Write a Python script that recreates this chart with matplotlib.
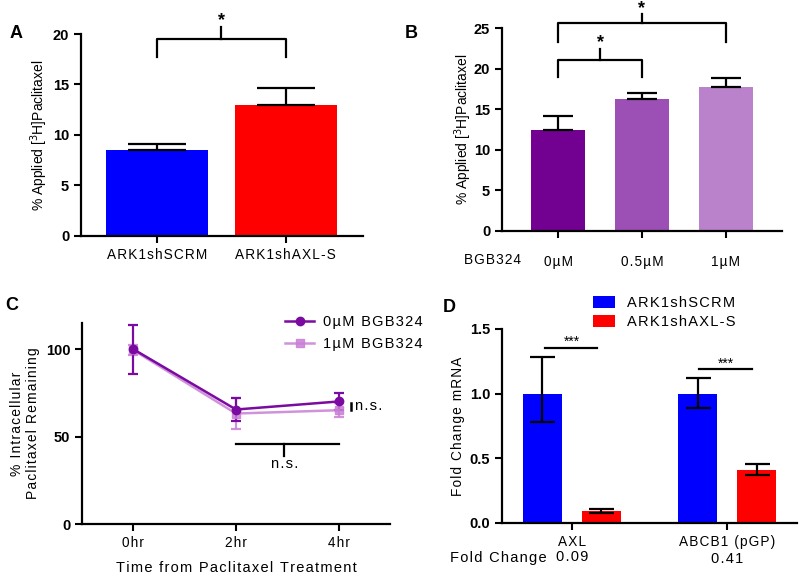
import matplotlib
matplotlib.use('Agg')
import matplotlib.pyplot as plt
from matplotlib.lines import Line2D
import numpy as np

plt.rcParams['font.family'] = ['Liberation Sans', 'DejaVu Sans']

# Panel A data
a_labels = ['ARK1shSCRM', 'ARK1shAXL-S']
a_values = [8.5, 13.0]
a_err = [0.6, 1.7]
a_colors = ['#0000FF', '#FF0000']

# Panel B data
b_labels = ['0µM', '0.5µM', '1µM']
b_values = [12.4, 16.3, 17.7]
b_err = [1.8, 0.65, 1.15]
b_colors = ['#720090', '#9C4FB4', '#BA82CB']

# Panel C data
c_times = ['0hr', '2hr', '4hr']
c_0um = [100, 65.5, 70.1]
c_0um_err = [14, 6.8, 4.6]
c_1um = [99.5, 63.2, 65.1]
c_1um_err = [3, 8.8, 4.0]

# Panel D data
d_genes = ['AXL', 'ABCB1 (pGP)']
d_scrm = [1.0, 1.0]
d_scrm_lo = [0.22, 0.11]
d_scrm_hi = [0.28, 0.12]
d_axl = [0.09, 0.41]
d_axl_lo = [0.012, 0.04]
d_axl_hi = [0.015, 0.05]
d_fold = ['0.09', '0.41']


def sp(s):
    # fake letter spacing like the prism export
    return '\u200a'.join(s)


W, H = 800, 575
C0 = '#7A0AA0'
C1 = '#C97FD6'
FS = 9.8


def px_axes(fig, left, top, right, bottom):
    return fig.add_axes([left / W, 1 - bottom / H, (right - left) / W, (bottom - top) / H])


def style(ax):
    for s in ['top', 'right']:
        ax.spines[s].set_visible(False)
    for s in ['left', 'bottom']:
        ax.spines[s].set_linewidth(1.6)
    ax.tick_params(width=1.5, length=5)
    ax.tick_params(axis='y', labelsize=10.5)
    for t in ax.get_yticklabels():
        t.set_fontweight('bold')


def bracket(ax, x1, x2, y, leg, stem, lw=1.6):
    xm = (x1 + x2) / 2
    ax.plot([x1, x1, x2, x2], [y - leg, y, y, y - leg], color='black', lw=lw, clip_on=False)
    ax.plot([xm, xm], [y, y + stem], color='black', lw=lw, clip_on=False)


fig = plt.figure(figsize=(8, 5.75), dpi=100)

# ---------- A ----------
ax = px_axes(fig, 81, 34, 363, 236)
xa = np.arange(len(a_values))
ax.bar(xa, a_values, width=0.79, color=a_colors)
ax.errorbar(xa, a_values, yerr=[np.zeros(2), a_err], fmt='none', ecolor='black',
            elinewidth=1.6, capsize=21, capthick=1.6)
ax.set_xlim(-0.59, 1.6)
ax.set_ylim(0, 20)
ax.set_yticks([0, 5, 10, 15, 20])
ax.set_xticks(xa)
ax.set_xticklabels([sp(s) for s in a_labels], fontsize=FS)
ax.set_ylabel('% Applied [$^{3}$H]Paclitaxel', fontsize=10, labelpad=2)
style(ax)
bracket(ax, 0, 1, 19.5, 1.8, 1.2)
ax.text(0.5, 20.5, '*', ha='center', va='bottom', fontsize=13, fontweight='bold')
fig.text(10 / W, 1 - 33 / H, 'A', fontsize=13, fontweight='bold', va='center')

# ---------- B ----------
ax = px_axes(fig, 502, 28, 782, 231)
xb = np.arange(len(b_values))
ax.bar(xb, b_values, width=0.65, color=b_colors)
ax.errorbar(xb, b_values, yerr=[np.zeros(3), b_err], fmt='none', ecolor='black',
            elinewidth=1.6, capsize=10.5, capthick=1.6)
ax.set_xlim(-0.67, 2.67)
ax.set_ylim(0, 25)
ax.set_yticks([0, 5, 10, 15, 20, 25])
ax.set_xticks(xb)
ax.set_xticklabels([sp(s) for s in b_labels], fontsize=FS)
ax.set_ylabel('% Applied [$^{3}$H]Paclitaxel', fontsize=10, labelpad=0)
style(ax)
ax.tick_params(axis='x', pad=12)
bracket(ax, 0, 1, 21.06, 2.1, 1.3)
ax.text(0.5, 22.2, '*', ha='center', va='bottom', fontsize=13, fontweight='bold')
bracket(ax, 0, 2, 25.57, 2.3, 1.1)
ax.text(1.0, 26.4, '*', ha='center', va='bottom', fontsize=13, fontweight='bold')
fig.text(493 / W, 1 - 260 / H, sp('BGB324'), fontsize=FS, ha='center', va='center')
fig.text(405 / W, 1 - 33 / H, 'B', fontsize=13, fontweight='bold', va='center')

# ---------- C ----------
ax = px_axes(fig, 82, 323, 390, 524)
xc = np.arange(len(c_times))
ax.errorbar(xc, c_1um, yerr=c_1um_err, color=C1, alpha=0.85, marker='s', ms=5.5,
            lw=1.8, elinewidth=1.6, capsize=3.5, capthick=1.6)
ax.errorbar(xc, c_0um, yerr=c_0um_err, color=C0, marker='o', ms=6,
            lw=1.8, elinewidth=1.6, capsize=3.5, capthick=1.6)
ax.set_xlim(-0.5, 2.5)
ax.set_ylim(0, 115)
ax.set_yticks([0, 50, 100])
ax.set_xticks(xc)
ax.set_xticklabels([sp(s) for s in c_times], fontsize=FS)
ax.set_xlabel(sp('Time from Paclitaxel Treatment'), fontsize=10.5, labelpad=8)
ax.set_ylabel(sp('% Intracellular') + '\n' + sp('Paclitaxel Remaining'), fontsize=10)
style(ax)
ax.plot([1, 2], [46, 46], color='black', lw=1.6)
ax.plot([1.47, 1.47], [46, 39.1], color='black', lw=1.6)
ax.text(1.47, 34.5, sp('n.s.'), ha='center', va='center', fontsize=10.5)
ax.plot([2.12, 2.12], [65, 69.5], color='black', lw=1.8, clip_on=False)
ax.text(2.16, 67.5, sp('n.s.'), ha='left', va='center', fontsize=10.5)
leg_h = [Line2D([], [], color=C0, marker='o', ms=6, lw=1.8),
         Line2D([], [], color=C1, alpha=0.85, marker='s', ms=5.5, lw=1.8)]
ax.legend(leg_h, [sp('0µM BGB324'), sp('1µM BGB324')], loc='upper left',
          bbox_to_anchor=(0.64, 1.07), frameon=False, fontsize=10.5, handlelength=2.0,
          handletextpad=0.6, labelspacing=0.55, borderaxespad=0)
fig.text(5 / W, 1 - 306 / H, 'C', fontsize=13, fontweight='bold', va='center')

# ---------- D ----------
ax = px_axes(fig, 502, 329, 797, 523)
xd = np.arange(len(d_genes))
off, bw = 0.19, 0.25
ax.bar(xd - off, d_scrm, width=bw, color='#0000FF', label=sp('ARK1shSCRM'))
ax.bar(xd + off, d_axl, width=bw, color='#FF0000', label=sp('ARK1shAXL-S'))
ax.errorbar(xd - off, d_scrm, yerr=[d_scrm_lo, d_scrm_hi], fmt='none', ecolor='black',
            elinewidth=1.6, capsize=9, capthick=1.6)
ax.errorbar(xd + off, d_axl, yerr=[d_axl_lo, d_axl_hi], fmt='none', ecolor='black',
            elinewidth=1.6, capsize=9, capthick=1.6)
ax.set_xlim(-0.45, 1.45)
ax.set_ylim(0, 1.5)
ax.set_yticks([0, 0.5, 1.0, 1.5])
ax.set_yticklabels(['0.0', '0.5', '1.0', '1.5'])
ax.set_xticks(xd)
ax.set_xticklabels([sp(s) for s in d_genes], fontsize=FS)
ax.set_ylabel(sp('Fold Change mRNA'), fontsize=FS, labelpad=3)
style(ax)
ax.plot([-0.17, 0.16], [1.355, 1.355], color='black', lw=1.6)
ax.text(0.0, 1.345, '***', ha='center', va='bottom', fontsize=10)
ax.plot([0.82, 1.16], [1.19, 1.19], color='black', lw=1.6)
ax.text(0.99, 1.18, '***', ha='center', va='bottom', fontsize=10)
for i, fc in enumerate(d_fold):
    ax.text(xd[i], -0.26 - 0.015 * i, sp(fc), ha='center', va='center', fontsize=10.5)
fig.text(450 / W, 1 - 558 / H, sp('Fold Change'), fontsize=10.5, va='center')
ax.legend(loc='upper left', bbox_to_anchor=(0.29, 1.2), frameon=False, fontsize=10.5,
          handlelength=1.5, handleheight=0.8, handletextpad=0.8, labelspacing=0.35,
          borderaxespad=0)
fig.text(443 / W, 1 - 308 / H, 'D', fontsize=13, fontweight='bold', va='center')

fig.savefig('out.png', dpi=100)
